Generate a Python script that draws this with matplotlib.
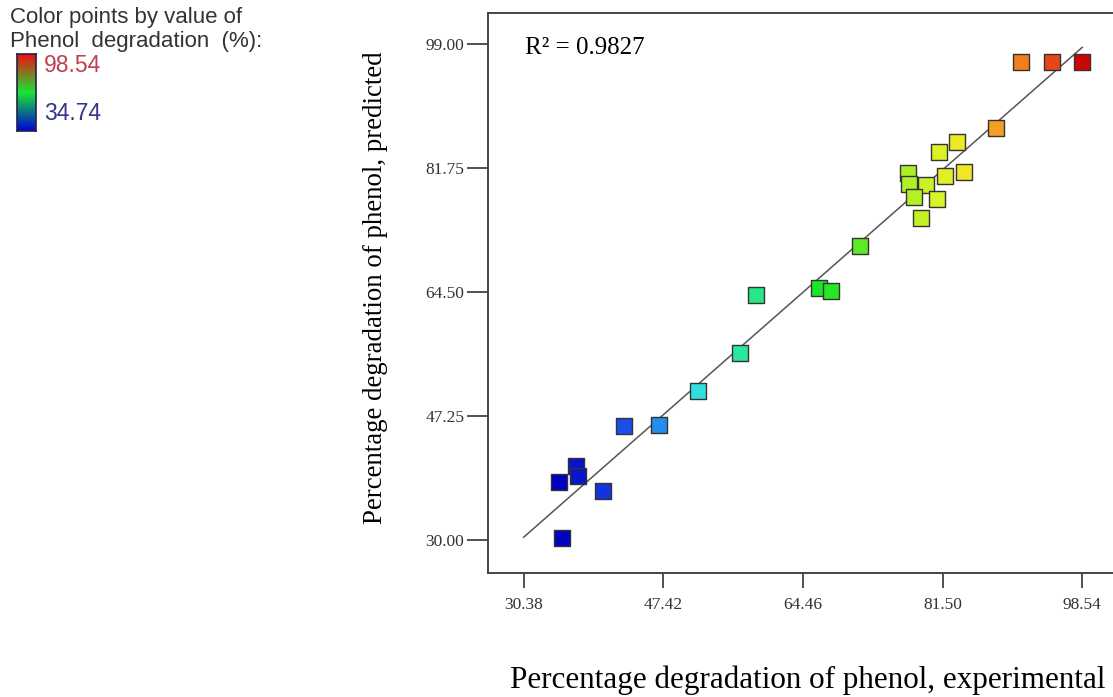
import numpy as np
import matplotlib
matplotlib.use("Agg")
import matplotlib.pyplot as plt
from matplotlib.colors import LinearSegmentedColormap

# experimental vs predicted phenol degradation (%)
experimental = [91.06, 94.84, 98.54, 88.01, 83.25, 81.06, 77.28, 77.40, 79.47,
                81.79, 84.11, 78.01, 80.81, 78.86, 71.42, 66.42, 67.88, 58.73,
                56.78, 51.66, 46.90, 42.63, 36.77, 37.02, 34.74, 40.07, 35.06]
predicted = [96.50, 96.50, 96.50, 87.32, 85.37, 83.98, 81.06, 79.53, 79.39,
             80.64, 81.20, 77.72, 77.44, 74.80, 70.90, 65.06, 64.64, 64.08,
             56.02, 50.73, 46.00, 45.86, 40.29, 38.90, 38.07, 36.82, 30.28]

x_ticks = [30.38, 47.42, 64.46, 81.50, 98.54]
y_ticks = [30.00, 47.25, 64.50, 81.75, 99.00]
v_min, v_max = 34.74, 98.54
r2 = 0.9827

# design-expert like colour scale
cmap = LinearSegmentedColormap.from_list("dx", [
    (0.00, (0.00, 0.00, 0.75)),
    (0.12, (0.10, 0.30, 0.90)),
    (0.20, (0.15, 0.60, 0.95)),
    (0.27, (0.20, 0.90, 0.85)),
    (0.50, (0.10, 0.90, 0.15)),
    (0.72, (0.85, 0.95, 0.15)),
    (0.78, (0.95, 0.90, 0.15)),
    (0.84, (0.95, 0.60, 0.15)),
    (0.90, (0.95, 0.45, 0.10)),
    (0.95, (0.90, 0.25, 0.10)),
    (1.00, (0.80, 0.02, 0.02)),
])
legend_cmap = LinearSegmentedColormap.from_list(
    "leg", [(0.0, 0.0, 0.85), (0.1, 0.9, 0.2), (0.95, 0.05, 0.05)])

W, H = 1113, 697
fig = plt.figure(figsize=(W / 100, H / 100), dpi=100)

def px_box(x0, y0, x1, y1):
    return [x0 / W, 1 - y1 / H, (x1 - x0) / W, (y1 - y0) / H]

ax = fig.add_axes(px_box(488, 13, 1113, 573))

# axis limits from pixel positions of the ticks
x_ppu = (1082.3 - 523.6) / (98.54 - 30.38)
y_ppu = (540 - 44) / (99.0 - 30.0)
ax.set_xlim(30.38 - (523.6 - 488) / x_ppu, 98.54 + (1113 - 1082.3) / x_ppu)
ax.set_ylim(30.0 - (573 - 540) / y_ppu, 99.0 + (44 - 13) / y_ppu)

ax.plot([x_ticks[0], x_ticks[-1]], [x_ticks[0], x_ticks[-1]],
        color="#555555", lw=1.1, zorder=2)
ax.scatter(experimental, predicted, c=experimental, cmap=cmap,
           vmin=v_min, vmax=v_max, marker="s", s=130,
           edgecolors="#333333", linewidths=1.0, zorder=3)

ax.set_xticks(x_ticks)
ax.set_xticklabels([f"{v:.2f}" for v in x_ticks])
ax.set_yticks(y_ticks)
ax.set_yticklabels([f"{v:.2f}" for v in y_ticks])
serif = "Liberation Serif"
for lab in ax.get_xticklabels() + ax.get_yticklabels():
    lab.set_family(serif)
    lab.set_fontsize(12.5)
    lab.set_color("#333333")
ax.tick_params(axis="x", length=11, width=1.2, pad=6, color="#333333")
ax.tick_params(axis="y", length=15, width=1.2, pad=2, color="#333333")
for side in ["left", "bottom", "top"]:
    ax.spines[side].set_linewidth(1.4)
    ax.spines[side].set_color("#444444")
ax.spines["right"].set_visible(False)

ax.text(525 / W, 1 - 48 / H, f"R\u00b2 = {r2}", transform=fig.transFigure,
        family=serif, fontsize=18, ha="left", va="center")

fig.text(375 / W, 1 - 288 / H, "Percentage degradation of phenol, predicted",
         family=serif, fontsize=19.4, rotation=90, ha="center", va="center")
fig.text(808 / W, 1 - 680 / H, "Percentage degradation of phenol, experimental",
         family=serif, fontsize=22.4, ha="center", va="center")

# colour legend top-left
fig.text(10 / W, 1 - 18 / H, "Color points by value of",
         family="Liberation Sans", fontsize=16, color="#333333", va="center")
fig.text(10 / W, 1 - 42 / H, "Phenol  degradation  (%):",
         family="Liberation Sans", fontsize=16, color="#333333", va="center")
cax = fig.add_axes(px_box(17, 54, 36, 131))
grad = np.linspace(0, 1, 256).reshape(-1, 1)
cax.imshow(grad, cmap=legend_cmap, aspect="auto", origin="lower")
cax.set_xticks([])
cax.set_yticks([])
for sp in cax.spines.values():
    sp.set_linewidth(1.2)
    sp.set_color("#222244")
fig.text(44 / W, 1 - 65 / H, f"{v_max:.2f}", family="Liberation Sans",
         fontsize=16.5, color="#c0404f", va="center")
fig.text(44 / W, 1 - 113 / H, f"{v_min:.2f}", family="Liberation Sans",
         fontsize=16.5, color="#333388", va="center")

fig.savefig("out.png", dpi=100)
